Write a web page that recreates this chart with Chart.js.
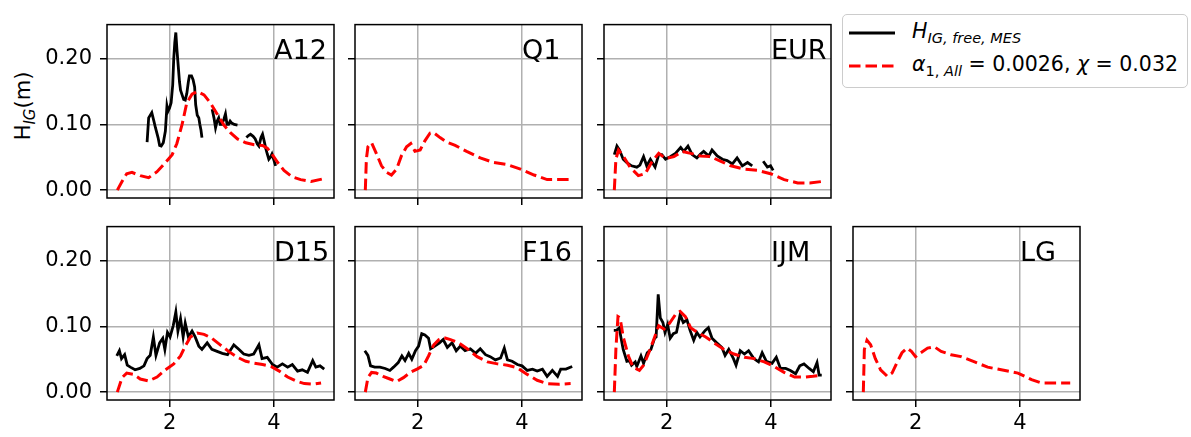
<!DOCTYPE html>
<html>
<head>
<meta charset="utf-8">
<script src="https://cdn.jsdelivr.net/npm/chart.js@4.4.0/dist/chart.umd.min.js"></script>
<style>
    body { margin: 0; background: #fff; width: 1191px; height: 437px; position: relative; overflow: hidden; font-family: 'DejaVu Sans', sans-serif; color: #000; }
    canvas.panel { position: absolute; }
    #ylab { position: absolute; left: 23px; top: 106px; transform: translate(-50%, -50%) rotate(-90deg); font-size: 21px; white-space: nowrap; }
    #ylab .sb { font-size: 15px; font-style: italic; position: relative; top: 5px; }
    #legend { position: absolute; left: 842px; top: 14px; width: 346px; height: 74px; box-sizing: border-box; border: 1.5px solid #cccccc; border-radius: 5px; background: rgba(255,255,255,0.8); }
    .ltxt { position: absolute; left: 912px; font-size: 20.5px; line-height: 24px; white-space: nowrap; }
    .ltxt .sb { font-size: 14.5px; position: relative; top: 5px; }
    .handle { position: absolute; left: 847px; }
</style>
</head>
<body>
<div id="ylab">H<span class="sb">IG</span>(m)</div>
<div id="legend"></div>
<svg class="handle" style="top:30px" width="52" height="6"><line x1="2" y1="3" x2="48" y2="3" stroke="#000" stroke-width="3"/></svg>
<svg class="handle" style="top:63px" width="52" height="6"><line x1="2" y1="3" x2="48" y2="3" stroke="#ff0000" stroke-width="3" stroke-dasharray="11.5 5"/></svg>
<div class="ltxt" style="top:19px"><i>H</i><span class="sb"><i>IG, free, MES</i></span></div>
<div class="ltxt" style="top:52px"><i>α</i><span class="sb">1, <i>All</i></span> = 0.0026, <i>χ</i> = 0.032</div>
<script>
// frequency axis ticks / height axis ticks
const xTicks = [2, 4];
const yTicks = [0, 0.1, 0.2];

// A12
const a12MesF = [1.57, 1.60, 1.66, 1.70, 1.73, 1.78, 1.81, 1.84, 1.88, 1.92, 1.95, 1.97, 2.00, 2.03, 2.06, 2.08, 2.10, 2.12, 2.14, 2.16, 2.19, 2.21, 2.24, 2.27, 2.30, 2.33, 2.36, 2.38, 2.42, 2.45, 2.48, 2.50, 2.53, 2.56, 2.58, 2.60, 2.62,
    2.70, 2.815, 2.85, 2.88, 2.91, 2.94, 2.97, 3.00, 3.04, 3.07, 3.10, 3.13, 3.16, 3.19, 3.24, 3.30,
    3.38, 3.47, 3.51, 3.55, 3.60, 3.64, 3.68, 3.71, 3.75, 3.78, 3.81, 3.84, 3.87, 3.90, 3.93, 3.96, 4.00, 4.03];
const a12MesH = [0.073, 0.110, 0.118, 0.105, 0.095, 0.080, 0.068, 0.067, 0.072, 0.090, 0.128, 0.120, 0.125, 0.133, 0.160, 0.200, 0.225, 0.240, 0.215, 0.195, 0.165, 0.152, 0.145, 0.138, 0.137, 0.147, 0.165, 0.174, 0.174, 0.168, 0.157, 0.130, 0.114, 0.110, 0.100, 0.092, 0.080,
    null, 0.123, 0.110, 0.095, 0.105, 0.110, 0.100, 0.100, 0.108, 0.116, 0.100, 0.100, 0.105, 0.102, 0.100, 0.099,
    null, 0.080, 0.083, 0.085, 0.082, 0.078, 0.070, 0.067, 0.080, 0.085, 0.075, 0.064, 0.055, 0.047, 0.050, 0.055, 0.045, 0.037];
const a12ModF = [1.00, 1.09, 1.18, 1.28, 1.44, 1.60, 1.76, 1.92, 2.05, 2.14, 2.24, 2.33, 2.43, 2.53, 2.66, 2.78, 2.91, 3.04, 3.17, 3.30, 3.46, 3.62, 3.78, 3.87, 3.96, 4.07, 4.19, 4.35, 4.51, 4.71, 4.93];
const a12ModH = [0, 0.013, 0.025, 0.027, 0.022, 0.019, 0.028, 0.042, 0.054, 0.071, 0.100, 0.133, 0.146, 0.150, 0.145, 0.133, 0.116, 0.099, 0.087, 0.078, 0.072, 0.069, 0.068, 0.064, 0.055, 0.042, 0.030, 0.020, 0.016, 0.013, 0.017];

// Q1
const q1ModF = [1.00, 1.02, 1.05, 1.12, 1.21, 1.31, 1.41, 1.50, 1.60, 1.69, 1.79, 1.87, 1.95, 2.05, 2.14, 2.24, 2.30, 2.43, 2.56, 2.72, 2.94, 3.20, 3.46, 3.71, 3.97, 4.23, 4.48, 4.70, 4.96];
const q1ModH = [0, 0.047, 0.066, 0.072, 0.056, 0.037, 0.027, 0.023, 0.032, 0.052, 0.066, 0.071, 0.059, 0.061, 0.075, 0.087, 0.088, 0.080, 0.073, 0.068, 0.059, 0.049, 0.042, 0.039, 0.032, 0.023, 0.016, 0.016, 0.016];

// EUR
const eurMesF = [1.00, 1.05, 1.10, 1.17, 1.24, 1.33, 1.43, 1.49, 1.56, 1.62, 1.69, 1.78, 1.85, 1.91, 1.98, 2.07, 2.17, 2.27, 2.33, 2.41, 2.49, 2.58, 2.65, 2.71, 2.81, 2.87, 2.97, 3.07, 3.16, 3.26, 3.35, 3.45, 3.55, 3.64, 3.75, 3.85, 3.93, 3.99, 4.04];
const eurMesH = [0.054, 0.067, 0.061, 0.047, 0.042, 0.037, 0.035, 0.038, 0.051, 0.037, 0.047, 0.035, 0.054, 0.054, 0.047, 0.051, 0.056, 0.065, 0.059, 0.067, 0.054, 0.049, 0.055, 0.059, 0.052, 0.061, 0.052, 0.047, 0.045, 0.040, 0.049, 0.037, 0.042, 0.037, null, 0.044, 0.035, 0.037, 0.030];
const eurModF = [1.00, 1.03, 1.08, 1.17, 1.30, 1.46, 1.59, 1.72, 1.85, 1.98, 2.14, 2.30, 2.46, 2.65, 2.84, 3.03, 3.23, 3.48, 3.74, 3.99, 4.25, 4.51, 4.74, 4.96];
const eurModH = [0, 0.047, 0.061, 0.052, 0.035, 0.022, 0.025, 0.043, 0.056, 0.048, 0.051, 0.059, 0.056, 0.052, 0.051, 0.044, 0.037, 0.032, 0.030, 0.025, 0.016, 0.011, 0.011, 0.013];

// D15
const d15MesF = [0.99, 1.04, 1.08, 1.14, 1.19, 1.25, 1.34, 1.43, 1.51, 1.57, 1.63, 1.69, 1.74, 1.81, 1.87, 1.91, 1.96, 2.01, 2.07, 2.12, 2.16, 2.21, 2.26, 2.30, 2.36, 2.43, 2.49, 2.56, 2.62, 2.72, 2.81, 2.91, 3.01, 3.11, 3.23, 3.33, 3.42, 3.52, 3.61, 3.71, 3.77, 3.87, 3.97, 4.06, 4.16, 4.26, 4.35, 4.45, 4.54, 4.64, 4.74, 4.80, 4.88, 4.96];
const d15MesH = [0.055, 0.063, 0.051, 0.057, 0.041, 0.038, 0.034, 0.036, 0.040, 0.051, 0.056, 0.084, 0.056, 0.075, 0.082, 0.065, 0.091, 0.084, 0.101, 0.122, 0.093, 0.112, 0.084, 0.105, 0.084, 0.093, 0.084, 0.070, 0.065, 0.075, 0.065, 0.062, 0.059, 0.057, 0.072, 0.065, 0.058, 0.056, 0.058, 0.072, 0.051, 0.053, 0.042, 0.038, 0.043, 0.038, 0.042, 0.032, 0.034, 0.030, 0.048, 0.038, 0.040, 0.035];
const d15ModF = [1.00, 1.09, 1.18, 1.31, 1.44, 1.60, 1.76, 1.92, 2.08, 2.21, 2.30, 2.40, 2.53, 2.66, 2.81, 2.97, 3.13, 3.30, 3.46, 3.62, 3.78, 3.94, 4.10, 4.26, 4.42, 4.58, 4.74, 4.90];
const d15ModH = [0, 0.022, 0.029, 0.027, 0.020, 0.017, 0.023, 0.034, 0.043, 0.055, 0.070, 0.084, 0.090, 0.088, 0.082, 0.072, 0.062, 0.053, 0.047, 0.044, 0.042, 0.039, 0.032, 0.023, 0.017, 0.013, 0.012, 0.014];

// F16
const f16MesF = [0.99, 1.05, 1.10, 1.18, 1.28, 1.38, 1.47, 1.54, 1.63, 1.70, 1.76, 1.83, 1.89, 1.96, 2.02, 2.08, 2.14, 2.21, 2.25, 2.33, 2.42, 2.49, 2.57, 2.66, 2.74, 2.82, 2.91, 3.01, 3.11, 3.20, 3.30, 3.39, 3.49, 3.59, 3.66, 3.72, 3.81, 3.91, 4.00, 4.10, 4.20, 4.29, 4.39, 4.48, 4.58, 4.68, 4.74, 4.84, 4.96];
const f16MesH = [0.063, 0.056, 0.040, 0.038, 0.038, 0.036, 0.033, 0.038, 0.045, 0.055, 0.048, 0.059, 0.050, 0.063, 0.070, 0.089, 0.087, 0.082, 0.066, 0.070, 0.075, 0.080, 0.068, 0.075, 0.063, 0.070, 0.063, 0.066, 0.059, 0.066, 0.057, 0.054, 0.049, 0.052, 0.067, 0.049, 0.047, 0.042, 0.040, 0.033, 0.035, 0.032, 0.035, 0.024, 0.033, 0.024, 0.035, 0.035, 0.039];
const f16ModF = [1.00, 1.05, 1.12, 1.21, 1.34, 1.47, 1.60, 1.73, 1.86, 1.99, 2.12, 2.21, 2.31, 2.41, 2.50, 2.63, 2.79, 2.95, 3.14, 3.34, 3.53, 3.72, 3.91, 4.10, 4.29, 4.48, 4.71, 4.93];
const f16ModH = [0, 0.022, 0.030, 0.029, 0.024, 0.020, 0.016, 0.022, 0.030, 0.035, 0.041, 0.055, 0.072, 0.080, 0.083, 0.080, 0.075, 0.066, 0.054, 0.046, 0.043, 0.041, 0.037, 0.027, 0.018, 0.013, 0.012, 0.013];

// IJM
const ijmMesF = [0.99, 1.04, 1.10, 1.12, 1.17, 1.24, 1.29, 1.33, 1.40, 1.43, 1.51, 1.56, 1.63, 1.70, 1.77, 1.80, 1.84, 1.88, 1.93, 1.97, 2.02, 2.07, 2.13, 2.19, 2.26, 2.32, 2.39, 2.45, 2.52, 2.58, 2.64, 2.74, 2.80, 2.87, 2.96, 3.06, 3.12, 3.19, 3.28, 3.33, 3.41, 3.49, 3.57, 3.67, 3.76, 3.83, 3.91, 4.02, 4.10, 4.18, 4.28, 4.37, 4.47, 4.55, 4.63, 4.73, 4.81, 4.88, 4.92, 4.97];
const ijmMesH = [0.094, 0.094, 0.098, 0.086, 0.065, 0.047, 0.048, 0.041, 0.046, 0.039, 0.055, 0.044, 0.060, 0.065, 0.082, 0.084, 0.149, 0.113, 0.106, 0.091, 0.103, 0.082, 0.089, 0.091, 0.118, 0.106, 0.110, 0.094, 0.079, 0.091, 0.084, 0.094, 0.098, 0.082, 0.075, 0.068, 0.056, 0.065, 0.051, 0.041, 0.063, 0.058, 0.063, 0.051, 0.046, 0.060, 0.047, 0.044, 0.053, 0.036, 0.036, 0.033, 0.028, 0.040, 0.043, 0.036, 0.031, 0.045, 0.026, 0.026];
const ijmModF = [1.00, 1.03, 1.07, 1.11, 1.17, 1.27, 1.36, 1.48, 1.56, 1.66, 1.75, 1.85, 1.95, 2.06, 2.17, 2.26, 2.36, 2.46, 2.59, 2.75, 2.91, 3.10, 3.29, 3.49, 3.68, 3.87, 4.06, 4.25, 4.45, 4.64, 4.80, 4.96];
const ijmModH = [0, 0.065, 0.115, 0.113, 0.084, 0.055, 0.038, 0.033, 0.041, 0.060, 0.079, 0.101, 0.096, 0.105, 0.118, 0.123, 0.115, 0.098, 0.091, 0.084, 0.075, 0.065, 0.058, 0.053, 0.051, 0.046, 0.039, 0.030, 0.023, 0.023, 0.024, 0.026];

// LG
const lgModF = [1.00, 1.02, 1.07, 1.14, 1.23, 1.33, 1.46, 1.55, 1.65, 1.74, 1.84, 1.92, 2.00, 2.10, 2.23, 2.36, 2.49, 2.68, 2.87, 3.13, 3.38, 3.64, 3.96, 4.22, 4.41, 4.67, 4.96];
const lgModH = [0, 0.065, 0.079, 0.072, 0.051, 0.034, 0.024, 0.029, 0.046, 0.060, 0.067, 0.062, 0.054, 0.060, 0.067, 0.069, 0.062, 0.057, 0.054, 0.046, 0.038, 0.034, 0.029, 0.019, 0.014, 0.014, 0.014];

const panels = [
    { name: 'A12', row: 0, col: 0, mesF: a12MesF, mesH: a12MesH, modF: a12ModF, modH: a12ModH },
    { name: 'Q1',  row: 0, col: 1, mesF: [], mesH: [], modF: q1ModF, modH: q1ModH },
    { name: 'EUR', row: 0, col: 2, mesF: eurMesF, mesH: eurMesH, modF: eurModF, modH: eurModH },
    { name: 'D15', row: 1, col: 0, mesF: d15MesF, mesH: d15MesH, modF: d15ModF, modH: d15ModH },
    { name: 'F16', row: 1, col: 1, mesF: f16MesF, mesH: f16MesH, modF: f16ModF, modH: f16ModH },
    { name: 'IJM', row: 1, col: 2, mesF: ijmMesF, mesH: ijmMesH, modF: ijmModF, modH: ijmModH },
    { name: 'LG',  row: 1, col: 3, mesF: [], mesH: [], modF: lgModF, modH: lgModH }
];

// layout of the plot areas (px)
const colLeft = [107, 355, 604, 853];
const rowTop = [14, 216];
const areaW = 227, areaH = 184;
const padL = 100, padT = 10, padR = 10, padB = 40;

const FONT = { family: 'DejaVu Sans', size: 21 };

// panel name + full black frame
const panelDeco = {
    id: 'panelDeco',
    afterDatasetsDraw(chart, args, opts) {
        const { ctx, chartArea: a, scales } = chart;
        ctx.save();
        ctx.fillStyle = '#000';
        ctx.font = '27px "DejaVu Sans"';
        ctx.textAlign = 'left';
        ctx.textBaseline = 'alphabetic';
        ctx.fillText(opts.name, scales.x.getPixelForValue(4), scales.y.getPixelForValue(0.2));
        ctx.strokeStyle = '#000';
        ctx.lineWidth = 1.5;
        ctx.strokeRect(a.left, a.top, a.right - a.left, a.bottom - a.top);
        ctx.restore();
    }
};

function pts(xs, ys) {
    return xs.map((x, i) => ({ x: x, y: ys[i] }));
}

panels.forEach(p => {
    const cv = document.createElement('canvas');
    cv.className = 'panel';
    cv.width = padL + areaW + padR;
    cv.height = padT + areaH + padB;
    cv.style.left = (colLeft[p.col] - padL) + 'px';
    cv.style.top = (rowTop[p.row] - padT) + 'px';
    document.body.appendChild(cv);

    const showX = p.row === 1;
    const showY = p.col === 0;

    new Chart(cv.getContext('2d'), {
        type: 'line',
        data: {
            datasets: [{
                data: pts(p.modF, p.modH),
                borderColor: '#ff0000',
                borderWidth: 3,
                borderDash: [11.5, 5],
                pointRadius: 0,
                tension: 0,
                fill: false
            }, {
                data: pts(p.mesF, p.mesH),
                borderColor: '#000000',
                borderWidth: 2.8,
                pointRadius: 0,
                tension: 0,
                spanGaps: false,
                fill: false
            }]
        },
        options: {
            responsive: false,
            animation: false,
            events: [],
            layout: { padding: { left: 0, top: padT, right: padR, bottom: 0 } },
            plugins: {
                legend: { display: false },
                tooltip: { enabled: false },
                panelDeco: { name: p.name }
            },
            scales: {
                x: {
                    type: 'linear',
                    min: 0.8025,
                    max: 5.1475,
                    afterBuildTicks: s => { s.ticks = xTicks.map(v => ({ value: v })); },
                    afterFit: s => { s.height = padB; },
                    grid: { color: '#b0b0b0', lineWidth: 1.5, tickColor: '#000', tickWidth: 1.5, tickLength: 7 },
                    border: { display: false },
                    ticks: {
                        color: '#000', font: FONT, padding: 4, maxRotation: 0, autoSkip: false,
                        callback: v => showX ? String(v) : ''
                    }
                },
                y: {
                    type: 'linear',
                    min: -0.012,
                    max: 0.252,
                    afterBuildTicks: s => { s.ticks = yTicks.map(v => ({ value: v })); },
                    afterFit: s => { s.width = padL; },
                    grid: { color: '#b0b0b0', lineWidth: 1.5, tickColor: '#000', tickWidth: 1.5, tickLength: 7 },
                    border: { display: false },
                    ticks: {
                        color: '#000', font: FONT, padding: 8, autoSkip: false,
                        callback: v => showY ? v.toFixed(2) : ''
                    }
                }
            }
        },
        plugins: [panelDeco]
    });
});
</script>
</body>
</html>
